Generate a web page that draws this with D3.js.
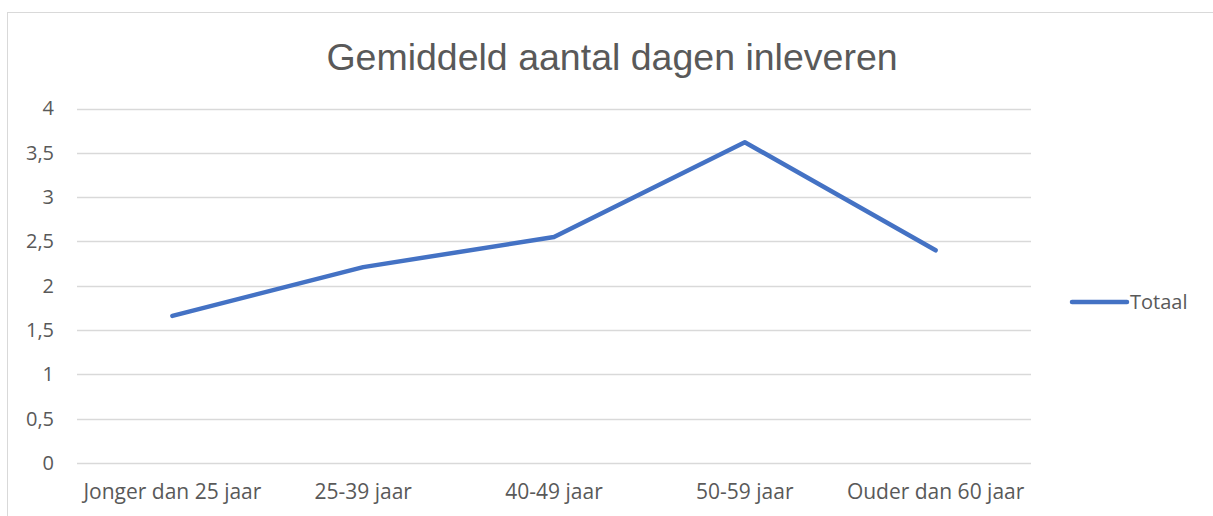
<!DOCTYPE html>
<html>
<head>
<meta charset="utf-8">
<script src="https://cdn.jsdelivr.net/npm/d3@7"></script>
<style>
body { margin: 0; background: #fff; }
text { fill: #595959; }
</style>
</head>
<body>
<svg id="chart"></svg>
<script>
var width = 1213;
var height = 516;

var categories = ["Jonger dan 25 jaar", "25-39 jaar", "40-49 jaar", "50-59 jaar", "Ouder dan 60 jaar"];
var values = [1.66, 2.21, 2.55, 3.62, 2.40];
var yTicks = [0, 0.5, 1, 1.5, 2, 2.5, 3, 3.5, 4];
var seriesName = "Totaal";
var title = "Gemiddeld aantal dagen inleveren";

var plotLeft = 77, plotRight = 1031;
var plotTop = 108.5, plotBottom = 463;
var lineColor = "#4472C4";

var svg = d3.select("#chart").attr("width", width).attr("height", height);

// outer border
svg.append("rect")
	.attr("x", 7.5).attr("y", 12.5)
	.attr("width", width).attr("height", height)
	.attr("fill", "none")
	.attr("stroke", "#d9d9d9")
	.attr("stroke-width", 1);

svg.append("text")
	.attr("x", 612).attr("y", 70)
	.attr("text-anchor", "middle")
	.attr("font-family", "Liberation Sans, Arial, sans-serif")
	.attr("font-size", 37.5)
	.text(title);

var x = d3.scaleBand().domain(categories).range([plotLeft, plotRight]);
var y = d3.scaleLinear().domain([0, 4]).range([plotBottom, plotTop]);

// gridlines
svg.append("g").selectAll("line").data(yTicks).enter()
	.append("line")
	.attr("x1", plotLeft).attr("x2", plotRight)
	.attr("y1", function(d) { return Math.round(y(d)) + 0.5; })
	.attr("y2", function(d) { return Math.round(y(d)) + 0.5; })
	.attr("stroke", "#d9d9d9")
	.attr("stroke-width", 1.3);

var fmt = function(d) { return String(d).replace(".", ","); };

var yAxis = svg.append("g")
	.attr("transform", "translate(" + (plotLeft - 23) + ",0)")
	.call(d3.axisLeft(y).tickValues(yTicks).tickFormat(fmt).tickSize(0).tickPadding(0));
yAxis.select(".domain").remove();
yAxis.selectAll("text")
	.attr("font-family", "Open Sans, sans-serif")
	.attr("font-size", 20)
	.attr("fill", "#595959");

var xAxis = svg.append("g")
	.attr("transform", "translate(0," + plotBottom + ")")
	.call(d3.axisBottom(x).tickSize(0).tickPadding(21));
xAxis.select(".domain").remove();
xAxis.selectAll("text")
	.attr("font-family", "Open Sans, sans-serif")
	.attr("font-size", 21)
	.attr("fill", "#595959");

var line = d3.line()
	.x(function(d, i) { return x(categories[i]) + x.bandwidth() / 2; })
	.y(function(d) { return y(d); });

svg.append("path")
	.datum(values)
	.attr("d", line)
	.attr("fill", "none")
	.attr("stroke", lineColor)
	.attr("stroke-width", 4.5)
	.attr("stroke-linecap", "round")
	.attr("stroke-linejoin", "round");

// legend
var legend = svg.append("g").attr("transform", "translate(1072,302)");
legend.append("line")
	.attr("x1", 0).attr("x2", 55)
	.attr("stroke", lineColor)
	.attr("stroke-width", 4.5)
	.attr("stroke-linecap", "round");
legend.append("text")
	.attr("x", 58).attr("y", 7)
	.attr("font-family", "Open Sans, sans-serif")
	.attr("font-size", 20)
	.text(seriesName);
</script>
</body>
</html>
